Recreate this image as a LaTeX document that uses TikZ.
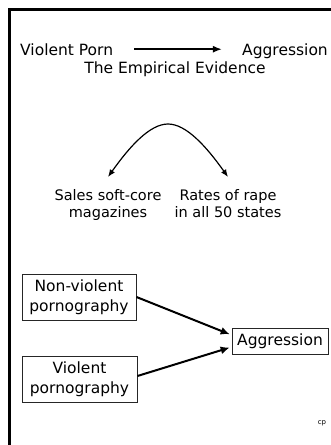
\documentclass[tikz,border=0pt]{standalone}
\usepackage{fontspec}
\setmainfont{DejaVu Sans}
\usetikzlibrary{arrows.meta}
\tikzset{
  txt/.style={inner sep=0pt, font=\fontsize{15.5}{19.5}\selectfont},
  smalltxt/.style={inner sep=0pt, align=center, font=\fontsize{14.5}{17.5}\selectfont},
  boxnode/.style={draw=black!85, line width=0.9pt, inner sep=0pt, align=center, font=\fontsize{15.5}{19.5}\selectfont},
  thinarrow/.style={line width=1.8pt, -{Latex[length=9pt,width=7pt]}},
  arcarrow/.style={line width=1.2pt, -{Latex[length=7.5pt,width=6pt]}},
  boxarrow/.style={line width=2pt, -{Latex[length=9pt,width=8pt]}},
}
\begin{document}
\begin{tikzpicture}[x=1pt,y=-1pt]
\useasboundingbox (0,0) rectangle (331,445);
% frame
\draw[line width=3pt] (9,445) -- (9,9) -- (331,9);
% title line
\node[txt, anchor=base west] (vp) at (20,55) {Violent Porn};
\node[txt, anchor=base east] (ag1) at (328,55) {Aggression};
\draw[thinarrow, shorten <=21pt, shorten >=20pt] (vp.east) -- (vp.east -| ag1.west);
\node[txt, anchor=base] (emp) at (175,73) {The Empirical Evidence};
% arc
\node[smalltxt, anchor=north] (sales) at (108,189) {Sales soft-core\\magazines};
\node[smalltxt, anchor=north] (rates) at (228,189) {Rates of rape\\in all 50 states};
\coordinate (top) at (168,124);
\coordinate (ls) at ([yshift=12pt]sales.north);
\coordinate (rs) at ([yshift=12pt]rates.north);
\draw[arcarrow] (top) .. controls (150,124) and (130,146) .. (ls);
\draw[arcarrow] (top) .. controls (186,124) and (206,146) .. (rs);
% boxes
\node[boxnode, minimum width=114pt, minimum height=46pt] (nv) at (79,297) {Non-violent\\pornography};
\node[boxnode, minimum width=115pt, minimum height=46pt] (vio) at (79.5,379) {Violent\\pornography};
\node[boxnode, minimum width=96pt, minimum height=26pt] (ag2) at (280,341) {Aggression};
\draw[boxarrow, shorten >=2pt] (nv.east) -- ([yshift=6pt]ag2.west);
\draw[boxarrow, shorten >=2pt] ([yshift=3pt]vio.east) -- ([yshift=-6pt]ag2.west);
\node[inner sep=0pt, font=\fontsize{7}{8}\selectfont] (cp) at (322,423) {cp};
\end{tikzpicture}
\end{document}
